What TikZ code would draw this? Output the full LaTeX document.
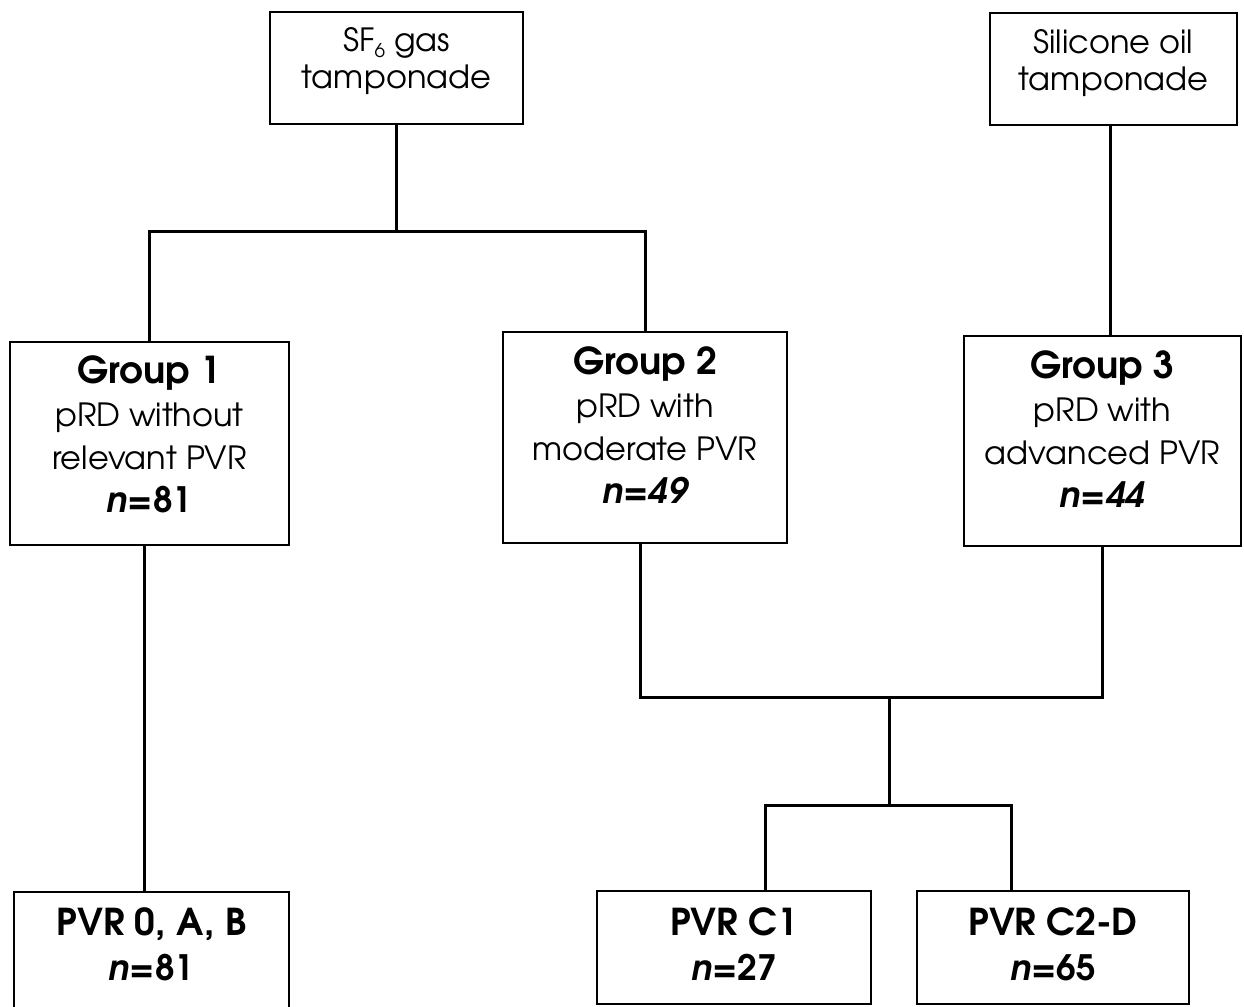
\documentclass[tikz,border=0pt]{standalone}
\usepackage{fontspec}
\setmainfont{TeX Gyre Adventor}
\begin{document}
\begin{tikzpicture}[x=1pt,y=-1pt,
  box/.style={draw=black,line width=2.2pt,rectangle,inner sep=0pt,align=center,text=black,text depth=0pt},
  topbox/.style={box,font={\fontsize{32}{37.5}\selectfont}},
  grpbox/.style={box,font={\fontsize{32}{43}\selectfont}},
  botbox/.style={box,font={\fontsize{35}{45}\selectfont\bfseries}},
  conn/.style={draw=black,line width=3pt}]
\useasboundingbox (0,0) rectangle (1244,1006);
\newcommand{\hdf}{\fontsize{37}{43}\selectfont\bfseries}
\newcommand{\nnf}{\fontsize{35}{43}\selectfont\bfseries}
% top boxes
\node[topbox,minimum width=253pt,minimum height=112pt,text height=42pt] (sf6) at (396.5,68)
  {SF\raisebox{-0.35ex}{\fontsize{19}{19}\selectfont 6} gas\\tamponade};
\node[topbox,minimum width=247pt,minimum height=112pt,text height=44pt] (sil) at (1113.5,69)
  {Silicone oil\\tamponade};
% group boxes
\node[grpbox,minimum width=279pt,minimum height=203pt,text height=137pt] (g1) at (149.5,443.5)
  {{\hdf Group 1}\\pRD without\\relevant PVR\\{\nnf\itshape n\upshape=81}};
\node[grpbox,minimum width=284pt,minimum height=211pt,text height=131pt] (g2) at (645,437.5)
  {{\hdf Group 2}\\pRD with\\moderate PVR\\{\nnf\itshape n=49}};
\node[grpbox,minimum width=277pt,minimum height=210pt,text height=132pt] (g3) at (1102.5,441)
  {{\hdf Group 3}\\pRD with\\advanced PVR\\{\nnf\itshape n=44}};
% bottom boxes
\node[botbox,minimum width=275pt,minimum height=118pt,text height=58pt] (p0) at (151.5,951)
  {{\fontsize{37}{45}\selectfont PVR 0, A, B}\\\textit{n}=81};
\node[botbox,minimum width=274pt,minimum height=113pt,text height=65pt] (c1) at (734,947.5)
  {{\fontsize{37}{45}\selectfont PVR C1}\\\textit{n}=27};
\node[botbox,minimum width=272pt,minimum height=113pt,text height=65pt] (c2) at (1053,947.5)
  {{\fontsize{37}{45}\selectfont PVR C2-D}\\\textit{n}=65};
% junction coordinates
\coordinate (j1) at (397,231);
\coordinate (x1) at (144,0);
\coordinate (x2) at (640,0);
\coordinate (x3) at (1110,0);
\coordinate (j2) at (889,697);
\coordinate (j3) at (889,805);
\coordinate (xc1) at (765,0);
\coordinate (xc2) at (1011,0);
% connectors
\draw[conn] (sf6.south) -- (sf6.south |- j1);
\draw[conn] (g1.north) |- (j1) -| (g2.north);
\draw[conn] (x3 |- sil.south) -- (x3 |- g3.north);
\draw[conn] (x1 |- g1.south) -- (x1 |- p0.north);
\draw[conn] (x2 |- g2.south) |- (j2) -| (g3.south);
\draw[conn] (j2) -- (j3);
\draw[conn] (xc1 |- c1.north) |- (j3) -| (xc2 |- c2.north);
\end{tikzpicture}
\end{document}
